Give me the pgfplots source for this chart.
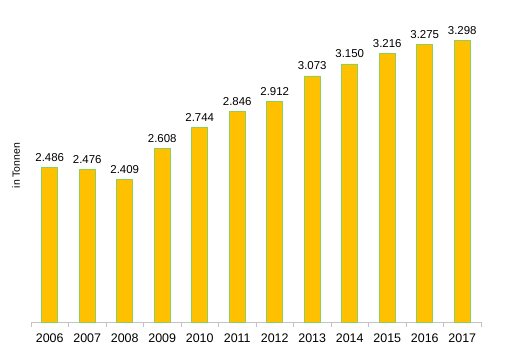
\documentclass[border=0pt]{standalone}
\usepackage{pgfplots}
\pgfplotsset{compat=1.18}
\usepackage{fontspec}
\setmainfont{Liberation Sans}
\definecolor{barfill}{RGB}{255,192,0}
\definecolor{baredge}{RGB}{140,208,90}
\definecolor{axgray}{RGB}{195,195,195}
\begin{document}
\begin{tikzpicture}
\begin{axis}[
  scale only axis,
  width=450bp, height=312.8bp,
  xmin=-0.5, xmax=11.5,
  ymin=1500, ymax=3500,
  axis x line*=bottom,
  axis y line*=left,
  y axis line style={draw=none},
  x axis line style={draw=axgray, line width=0.8bp},
  ytick=\empty,
  xtick={0,...,11},
  xticklabels={2006,2007,2008,2009,2010,2011,2012,2013,2014,2015,2016,2017},
  major tick length=0pt,
  minor xtick={-0.5,0.5,...,11.5},
  minor tick length=4.5bp,
  xtick align=outside,
  minor x tick style={draw=axgray, line width=0.8bp},
  xticklabel style={font=\fontsize{12.5}{14}\selectfont, yshift=-8bp},
  ylabel={in Tonnen},
  ylabel style={at={(axis description cs:-0.033,0.5)}, anchor=center, font=\fontsize{10.5}{12}\selectfont},
  ybar, bar width=16bp,
  point meta=explicit symbolic,
  nodes near coords,
  nodes near coords style={font=\fontsize{11.5}{13}\selectfont, anchor=south, inner sep=1bp, yshift=4.5bp, black},
  clip=false,
]
\addplot[fill=barfill, draw=baredge, line width=0.8bp] table[meta=label] {
x y label
0 2486 2.486
1 2476 2.476
2 2409 2.409
3 2608 2.608
4 2744 2.744
5 2846 2.846
6 2912 2.912
7 3073 3.073
8 3150 3.150
9 3216 3.216
10 3275 3.275
11 3298 3.298
};
\end{axis}
\pgfresetboundingbox
\path[use as bounding box] (-31bp,-35bp) rectangle (475bp,322bp);
\end{tikzpicture}
\end{document}
